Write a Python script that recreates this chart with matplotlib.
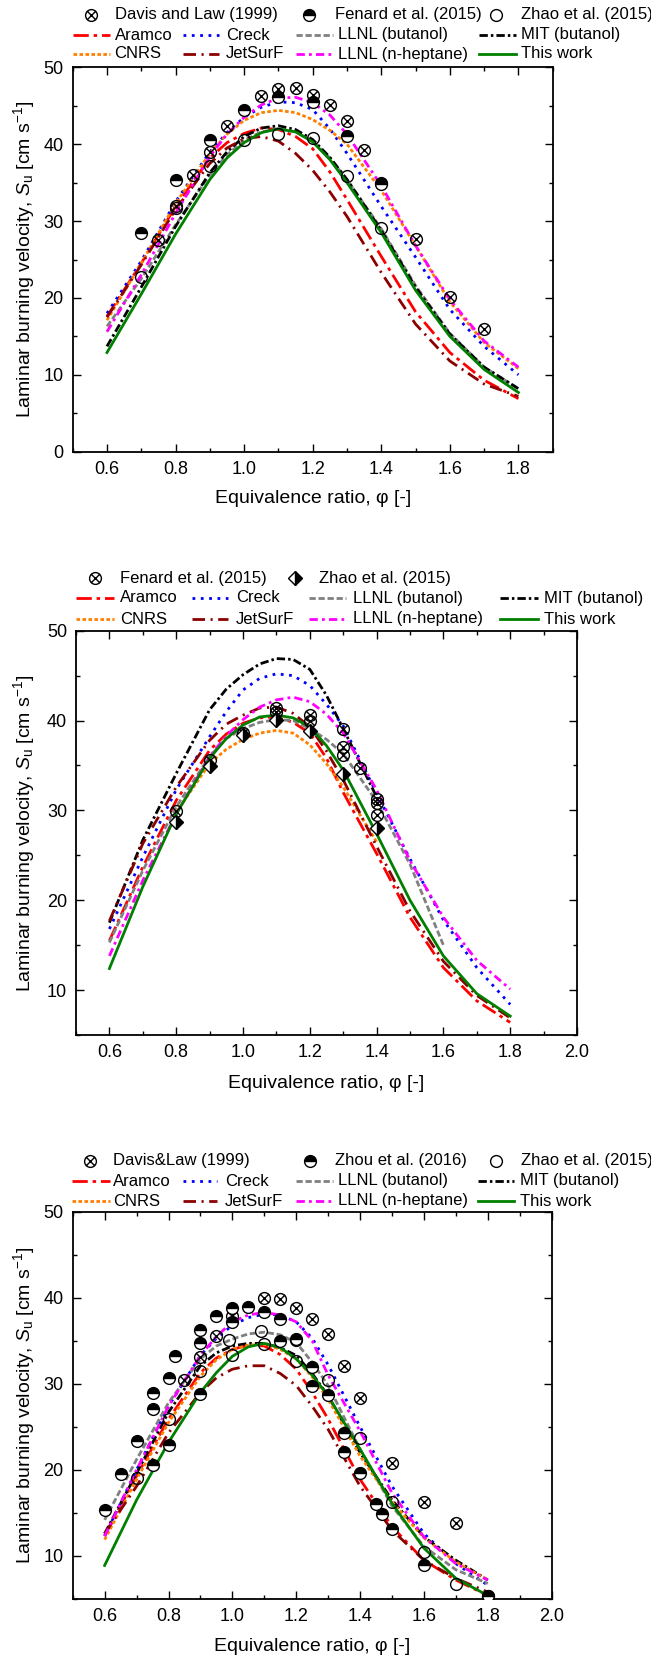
import matplotlib
matplotlib.use("Agg")
import matplotlib.pyplot as plt
from matplotlib.lines import Line2D
from matplotlib.path import Path
from matplotlib.ticker import MultipleLocator, FormatStrFormatter

# ---------------- DATA ----------------
phi = [0.6, 0.7, 0.8, 0.9, 0.95, 1.0, 1.05, 1.1, 1.15, 1.2, 1.25, 1.3, 1.4, 1.5, 1.6, 1.7, 1.8]

model_names = ["Aramco", "Creck", "LLNL (butanol)", "MIT (butanol)",
               "CNRS", "JetSurF", "LLNL (n-heptane)", "This work"]

# panel 1
p1_aramco = [17.6, 24.5, 31.9, 38.2, 40.2, 41.4, 42.1, 41.9, 41.0, 39.4, 36.4, 32.8, 25.4, 18.2, 12.9, 9.3, 6.9]
p1_creck = [18.0, 24.8, 32.5, 39.0, 41.5, 43.5, 44.8, 45.5, 45.4, 44.5, 42.0, 38.8, 31.9, 25.3, 18.5, 13.7, 10.0]
p1_llnl_but = [16.3, 22.5, 29.5, 36.0, 38.6, 40.5, 41.6, 42.0, 41.6, 40.4, 38.2, 35.4, 29.0, 21.6, 15.4, 11.0, 8.2]
p1_mit = [13.7, 21.4, 29.3, 36.3, 39.0, 41.0, 42.1, 42.4, 41.9, 40.6, 38.3, 35.4, 28.8, 21.4, 15.3, 11.0, 8.2]
p1_cnrs = [17.1, 24.5, 32.3, 38.8, 41.3, 43.1, 44.1, 44.4, 44.1, 43.2, 41.8, 40.0, 34.0, 26.8, 19.5, 14.2, 10.8]
p1_jetsurf = [17.5, 24.3, 31.5, 37.5, 39.5, 40.7, 41.0, 40.4, 38.8, 36.6, 33.8, 30.6, 23.3, 16.6, 11.8, 8.8, 7.2]
p1_llnl_hep = [15.6, 23.0, 31.0, 38.4, 41.3, 43.5, 45.1, 46.0, 46.1, 45.4, 43.8, 41.3, 34.6, 26.8, 19.8, 14.4, 11.0]
p1_this = [12.9, 20.5, 28.3, 35.4, 38.2, 40.2, 41.5, 42.0, 41.6, 40.3, 38.0, 35.0, 28.5, 21.0, 15.0, 10.7, 7.7]

p1_davis_phi = [0.75, 0.8, 0.85, 0.9, 0.95, 1.05, 1.1, 1.15, 1.2, 1.25, 1.3, 1.35, 1.4, 1.5, 1.6, 1.7]
p1_davis_su = [27.5, 32.0, 36.0, 39.0, 42.3, 46.3, 47.2, 47.3, 46.4, 45.1, 43.0, 39.2, 35.0, 27.7, 20.1, 16.0]
p1_fenard_phi = [0.7, 0.8, 0.9, 1.0, 1.1, 1.2, 1.3, 1.4]
p1_fenard_su = [28.4, 35.4, 40.5, 44.4, 46.2, 45.5, 41.1, 34.8]
p1_zhao_phi = [0.7, 0.8, 0.9, 1.0, 1.1, 1.2, 1.3, 1.4]
p1_zhao_su = [22.7, 31.7, 37.2, 40.6, 41.3, 40.8, 35.9, 29.1]

# panel 2
p2_aramco = [15.5, 23.7, 31.1, 36.7, 38.5, 39.7, 40.3, 40.4, 39.8, 38.6, 35.8, 32.0, 25.2, 18.1, 12.5, 8.8, 6.4]
p2_creck = [16.8, 24.8, 32.3, 38.2, 41.0, 43.4, 44.7, 45.2, 45.0, 43.9, 41.8, 39.4, 31.9, 24.6, 17.8, 12.5, 8.4]
p2_llnl_but = [15.3, 23.3, 30.4, 36.0, 38.0, 39.1, 39.8, 40.1, 40.0, 39.1, 37.9, 36.3, 31.0, 24.0, 15.0]
p2_mit = [17.5, 26.7, 34.1, 41.2, 43.5, 45.1, 46.3, 46.9, 46.8, 45.7, 42.8, 39.1, 31.5]
p2_cnrs_phi = [0.8, 0.9, 0.95, 1.0, 1.05, 1.1, 1.15, 1.2, 1.25, 1.3, 1.4]
p2_cnrs = [29.8, 35.2, 36.8, 37.9, 38.6, 38.9, 38.6, 37.3, 35.2, 32.6, 26.5]
p2_jetsurf = [17.7, 26.3, 32.6, 37.8, 39.6, 40.6, 41.4, 41.5, 40.8, 39.3, 36.6, 33.4, 26.0, 18.8, 13.2, 9.4, 6.9]
p2_llnl_hep = [13.8, 22.2, 29.6, 36.0, 38.3, 40.1, 41.5, 42.3, 42.6, 42.1, 40.7, 38.6, 32.3, 24.4, 18.1, 13.3, 10.1]
p2_this = [12.4, 21.5, 29.6, 35.8, 38.0, 39.5, 40.4, 40.6, 40.3, 39.3, 37.2, 34.5, 27.4, 20.0, 13.8, 9.6, 7.1]

p2_fenard_phi = [0.8, 0.9, 1.0, 1.1, 1.1, 1.2, 1.2, 1.3, 1.3, 1.3, 1.35, 1.4, 1.4, 1.4]
p2_fenard_su = [29.9, 35.6, 38.6, 41.4, 41.0, 40.6, 39.9, 39.1, 37.1, 36.2, 34.7, 31.3, 30.8, 29.5]
p2_zhao_phi = [0.8, 0.9, 1.0, 1.1, 1.2, 1.3, 1.4]
p2_zhao_su = [28.7, 34.9, 38.4, 40.1, 38.8, 34.0, 28.0]

# panel 3
p3_aramco = [12.4, 19.3, 25.9, 31.3, 33.0, 34.0, 34.5, 34.4, 33.4, 31.7, 29.0, 25.9, 18.9, 13.4, 9.5, 7.2, 5.4]
p3_creck = [12.3, 20.0, 27.4, 33.3, 35.3, 36.8, 37.7, 38.1, 38.0, 37.2, 35.3, 32.2, 25.0, 18.1, 12.6, 9.1, 6.6]
p3_llnl_but = [14.2, 21.2, 27.8, 32.9, 34.4, 35.2, 35.8, 36.0, 35.7, 34.8, 32.5, 29.8, 22.4, 15.8, 11.1, 8.4, 6.8]
p3_mit = [12.6, 19.6, 26.7, 32.1, 33.6, 34.4, 34.7, 34.7, 34.2, 33.3, 31.2, 28.6, 22.0, 16.5, 12.2, 9.5, 7.2]
p3_cnrs = [11.9, 18.9, 25.5, 30.9, 32.8, 34.0, 34.5, 34.6, 34.0, 32.9, 30.8, 28.2, 21.6, 16.3, 12.1, 9.3, 7.2]
p3_jetsurf = [12.6, 18.1, 24.3, 29.0, 30.7, 31.7, 32.1, 32.1, 31.2, 29.8, 27.4, 24.7, 18.1, 13.0, 9.5, 7.4, 5.8]
p3_llnl_hep = [12.3, 20.0, 27.4, 33.3, 35.5, 37.2, 38.0, 38.3, 38.0, 37.2, 35.0, 31.0, 24.5, 17.3, 12.2, 9.1, 7.2]
p3_this = [8.9, 16.5, 23.2, 29.0, 31.3, 33.2, 34.3, 34.7, 34.2, 32.9, 31.0, 28.6, 22.4, 16.1, 10.9, 7.4, 5.4]

p3_davis_phi = [0.85, 0.9, 0.95, 1.0, 1.1, 1.15, 1.2, 1.25, 1.3, 1.35, 1.4, 1.5, 1.6, 1.7]
p3_davis_su = [30.5, 33.1, 35.5, 37.9, 40.0, 39.8, 38.8, 37.5, 35.8, 32.1, 28.4, 20.8, 16.3, 13.8]
p3_zhou_phi = [0.6, 0.65, 0.7, 0.75, 0.75, 0.75, 0.8, 0.8, 0.82, 0.9, 0.9, 0.9, 0.95, 1.0, 1.0, 1.05,
               1.1, 1.15, 1.15, 1.2, 1.25, 1.25, 1.3, 1.35, 1.35, 1.4, 1.45, 1.47, 1.5, 1.6, 1.8]
p3_zhou_su = [15.3, 19.5, 23.3, 28.9, 27.1, 20.6, 30.7, 22.9, 33.2, 36.2, 34.8, 28.8, 37.9, 38.8, 37.2, 38.9,
              38.4, 37.5, 35.0, 35.2, 31.9, 29.8, 28.7, 24.3, 22.1, 19.6, 16.0, 14.9, 13.1, 9.0, 5.4]
p3_zhao_phi = [0.7, 0.8, 0.9, 1.0, 0.99, 1.09, 1.1, 1.2, 1.2, 1.3, 1.4, 1.5, 1.6, 1.7, 1.8]
p3_zhao_su = [19.1, 25.9, 31.5, 33.3, 35.1, 36.1, 34.6, 35.1, 32.7, 30.5, 23.7, 16.3, 10.5, 6.7, 5.4]

# ---------------- STYLE ----------------
plt.rcParams['font.family'] = ['Liberation Sans', 'DejaVu Sans']
plt.rcParams['mathtext.fontset'] = 'custom'
plt.rcParams['mathtext.rm'] = 'Liberation Sans'
plt.rcParams['mathtext.it'] = 'Liberation Sans:italic'
plt.rcParams['mathtext.bf'] = 'Liberation Sans:bold'
plt.rcParams['lines.scale_dashes'] = False

W, H = 651, 1663
LW = 2.0
line_styles = [
    dict(color='#ff0000', ls=(0, (11, 3.5, 2.5, 3.5))),
    dict(color='#0000ff', ls=(0, (2, 4))),
    dict(color='#808080', ls=(0, (4.5, 2))),
    dict(color='#000000', ls=(0, (6, 2.2, 1.8, 2.2))),
    dict(color='#ff7f00', ls=(0, (2.6, 1.7))),
    dict(color='#8b0000', ls=(0, (9, 4, 1.5, 4))),
    dict(color='#ff00ff', ls=(0, (6, 3, 2, 3))),
    dict(color='#008000', ls='-'),
]

# circle with a cross inside
_c = Path.unit_circle()
_d = 0.7071
OTIMES = Path(list(_c.vertices) + [(-_d, -_d), (_d, _d), (-_d, _d), (_d, -_d)],
              list(_c.codes) + [Path.MOVETO, Path.LINETO, Path.MOVETO, Path.LINETO])

MS = 8.5
mk_davis = dict(marker=OTIMES, ms=MS, mfc='none', mec='black', mew=1.0, ls='none')
mk_half = dict(marker='o', ms=MS, fillstyle='top', mfc='black', mfcalt='white', mec='black', mew=1.0, ls='none')
mk_open = dict(marker='o', ms=MS, mfc='none', mec='black', mew=1.0, ls='none')
mk_diam = dict(marker='D', ms=7, fillstyle='right', mfc='black', mfcalt='white', mec='black', mew=1.0, ls='none')

fig = plt.figure(figsize=(W / 100, H / 100), dpi=100)


def make_axes(l, r, t, b):
    return fig.add_axes([l / W, 1 - b / H, (r - l) / W, (b - t) / H])


def setup(ax, xlim, ylim, xlab_y):
    ax.set_xlim(*xlim)
    ax.set_ylim(*ylim)
    ax.xaxis.set_major_locator(MultipleLocator(0.2))
    ax.xaxis.set_minor_locator(MultipleLocator(0.1))
    ax.yaxis.set_major_locator(MultipleLocator(10))
    ax.yaxis.set_minor_locator(MultipleLocator(5))
    ax.xaxis.set_major_formatter(FormatStrFormatter('%.1f'))
    ax.tick_params(which='both', direction='in', top=True, right=True, width=1.0,
                   labelsize=13, pad=6.5)
    ax.tick_params(which='major', length=5.8)
    ax.tick_params(which='minor', length=2.9)
    for s in ax.spines.values():
        s.set_linewidth(1.3)
    ax.set_xlabel("Equivalence ratio, φ [-]", fontsize=14)
    ax.set_ylabel(r"Laminar burning velocity, $\mathit{S}_\mathrm{u}$ [cm s$^{-1}$]", fontsize=14)
    ax.xaxis.set_label_coords(0.5, -0.10)
    ax.yaxis.set_label_coords(xlab_y, 0.5)


def legend_line(x0, x1, y, tx, label, style):
    fig.add_artist(Line2D([x0 / W, x1 / W], [1 - y / H, 1 - y / H], transform=fig.transFigure,
                          lw=LW, color=style['color'], ls=style['ls']))
    fig.text(tx / W, 1 - y / H, label, va='center', ha='left', fontsize=12)


def legend_marker(xc, y, tx, label, mk):
    fig.add_artist(Line2D([xc / W], [1 - y / H], transform=fig.transFigure, **mk))
    fig.text(tx / W, 1 - y / H, label, va='center', ha='left', fontsize=12)


def draw_legend(rows_y, marker_items, col_x, text_x):
    for xc, tx, label, mk in marker_items:
        legend_marker(xc, rows_y[0], tx, label, mk)
    for i, (name, st) in enumerate(zip(model_names, line_styles)):
        row = 1 + i // 4
        c = i % 4
        legend_line(col_x[c][0], col_x[c][1], rows_y[row], text_x[c], name, st)


def draw_models(ax, xs, ys):
    for x, y, st in zip(xs, ys, line_styles):
        ax.plot(x, y, lw=LW, color=st['color'], ls=st['ls'], zorder=2)


# ---------------- PANEL 1 ----------------
ax1 = make_axes(72.7, 552.7, 67.3, 451.7)
draw_models(ax1, [phi] * 8,
            [p1_aramco, p1_creck, p1_llnl_but, p1_mit, p1_cnrs, p1_jetsurf, p1_llnl_hep, p1_this])
ax1.plot(p1_davis_phi, p1_davis_su, zorder=3, **mk_davis)
ax1.plot(p1_fenard_phi, p1_fenard_su, zorder=3, **mk_half)
ax1.plot(p1_zhao_phi, p1_zhao_su, zorder=3, **mk_open)
setup(ax1, (0.5, 1.9), (0, 50), -0.074)
draw_legend([15, 35, 54],
            [(91, 114.6, "Davis and Law (1999)", mk_davis),
             (309, 335, "Fenard et al. (2015)", mk_half),
             (496, 521, "Zhao et al. (2015)", mk_open)],
            [(73, 110), (183, 219), (296, 333), (479, 516)],
            [114.6, 226, 338, 521])

# ---------------- PANEL 2 ----------------
ax2 = make_axes(76, 577, 630.7, 1035)
draw_models(ax2, [phi, phi, phi[:15], phi[:13], p2_cnrs_phi, phi, phi, phi],
            [p2_aramco, p2_creck, p2_llnl_but, p2_mit, p2_cnrs, p2_jetsurf, p2_llnl_hep, p2_this])
ax2.plot(p2_fenard_phi, p2_fenard_su, zorder=3, **mk_davis)
ax2.plot(p2_zhao_phi, p2_zhao_su, zorder=3, **mk_diam)
setup(ax2, (0.5, 2.0), (5, 50), -0.078)
draw_legend([578, 598, 619],
            [(95, 120, "Fenard et al. (2015)", mk_davis),
             (295, 319, "Zhao et al. (2015)", mk_diam)],
            [(76, 114), (192, 228), (309, 346), (500, 538)],
            [120, 236, 353, 544])

# ---------------- PANEL 3 ----------------
ax3 = make_axes(72.7, 551.7, 1211.7, 1599)
draw_models(ax3, [phi] * 8,
            [p3_aramco, p3_creck, p3_llnl_but, p3_mit, p3_cnrs, p3_jetsurf, p3_llnl_hep, p3_this])
ax3.plot(p3_davis_phi, p3_davis_su, zorder=3, **mk_davis)
ax3.plot(p3_zhou_phi, p3_zhou_su, zorder=3, **mk_half)
ax3.plot(p3_zhao_phi, p3_zhao_su, zorder=3, **mk_open)
setup(ax3, (0.5, 2.0), (5, 50), -0.075)
draw_legend([1161, 1181, 1201],
            [(90, 113, "Davis&Law (1999)", mk_davis),
             (310, 335, "Zhou et al. (2016)", mk_half),
             (496, 521, "Zhao et al. (2015)", mk_open)],
            [(72, 110), (183, 217), (296, 333), (478, 514)],
            [113, 225, 337.5, 520])

fig.savefig("out.png", dpi=100)
